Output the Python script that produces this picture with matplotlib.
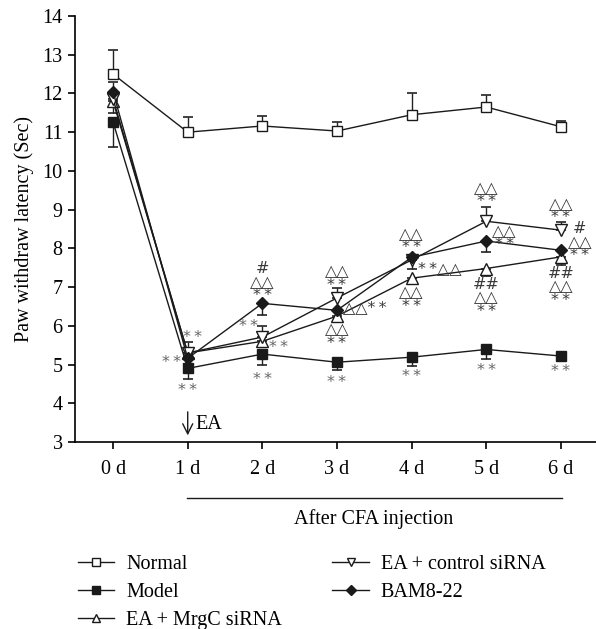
import matplotlib
matplotlib.use("Agg")
import matplotlib.pyplot as plt
import numpy as np

plt.rcParams['font.family'] = ['Liberation Serif', 'DejaVu Sans']

days = ["0 d", "1 d", "2 d", "3 d", "4 d", "5 d", "6 d"]

normal = [12.5, 11.0, 11.16, 11.03, 11.45, 11.65, 11.14]
normal_err_up = [0.62, 0.39, 0.27, 0.23, 0.55, 0.31, 0.15]
normal_err_dn = [0, 0, 0, 0, 0, 0, 0]

model = [11.26, 4.9, 5.27, 5.06, 5.19, 5.39, 5.22]
model_err_up = [0, 0, 0, 0, 0, 0, 0]
model_err_dn = [0.65, 0.28, 0.29, 0.21, 0.23, 0.24, 0.12]

mrgc = [11.8, 5.3, 5.6, 6.25, 7.23, 7.48, 7.78]
mrgc_err_up = [0, 0, 0, 0, 0, 0, 0]
mrgc_err_dn = [0.3, 0.1, 0.15, 0.12, 0.1, 0.2, 0.15]

ctrl = [11.86, 5.3, 5.71, 6.72, 7.7, 8.7, 8.47]
ctrl_err_up = [0.1, 0.28, 0.28, 0.26, 0.1, 0.36, 0.21]
ctrl_err_dn = [0, 0, 0, 0, 0, 0, 0]

bam = [12.04, 5.16, 6.58, 6.4, 7.77, 8.19, 7.95]
bam_err_up = [0.26, 0, 0, 0, 0, 0, 0]
bam_err_dn = [0, 0, 0.31, 0, 0.31, 0.29, 0.37]

# significance annotations: (series, day index, text, ha, va, dx px, dy px)
S = "*\u2009*"
T = "△△"
annots = [
    ("ctrl", 1, S, 'center', 'center', 5, 15),
    ("bam", 1, S, 'center', 'center', -16, -4),
    ("model", 1, S, 'center', 'center', 0, -22),
    ("bam", 2, "#\n" + T + "\n" + S, 'center', 'bottom', 0, 0),
    ("ctrl", 2, S, 'center', 'center', -14, 11),
    ("mrgc", 2, S, 'center', 'center', 16, -6),
    ("model", 2, S, 'center', 'center', 0, -25),
    ("ctrl", 3, T + "\n" + S, 'center', 'bottom', 0, 5),
    ("bam", 3, T + S, 'left', 'center', 6, 3),
    ("mrgc", 3, T + "\n" + S, 'center', 'top', 0, -6),
    ("model", 3, S, 'center', 'center', 0, -20),
    ("bam", 4, T + "\n" + S, 'center', 'bottom', 0, 2),
    ("bam", 4, S + T, 'left', 'center', 6, -11),
    ("mrgc", 4, T + "\n" + S, 'center', 'top', 0, -7),
    ("model", 4, S, 'center', 'center', 0, -19),
    ("ctrl", 5, T + "\n" + S, 'center', 'bottom', 0, 12),
    ("bam", 5, T + "\n" + S, 'center', 'center', 18, 3),
    ("mrgc", 5, "##\n" + T + "\n" + S, 'center', 'top', 0, -8),
    ("model", 5, S, 'center', 'center', 0, -21),
    ("ctrl", 6, T + "\n" + S, 'center', 'bottom', 0, 5),
    ("bam", 6, "#\n" + T + "\n" + S, 'center', 'center', 19, 8),
    ("mrgc", 6, "##\n" + T + "\n" + S, 'center', 'top', 0, -9),
    ("model", 6, S, 'center', 'center', 0, -15),
]

fig = plt.figure(figsize=(5.96, 6.29), dpi=100)
ax = fig.add_axes([75/596, 1-442/629, 1-75/596, (442-16)/629])

x = np.arange(len(days))
series = {
    "normal": (normal, normal_err_dn, normal_err_up, dict(marker='s', mfc='white', ms=7.5), "Normal"),
    "model": (model, model_err_dn, model_err_up, dict(marker='s', mfc='#1a1a1a', ms=7.5), "Model"),
    "mrgc": (mrgc, mrgc_err_dn, mrgc_err_up, dict(marker='^', mfc='white', ms=8), "EA + MrgC siRNA"),
    "ctrl": (ctrl, ctrl_err_dn, ctrl_err_up, dict(marker='v', mfc='white', ms=8), "EA + control siRNA"),
    "bam": (bam, bam_err_dn, bam_err_up, dict(marker='D', mfc='#1a1a1a', ms=6.5), "BAM8-22"),
}
handles = {}
for key in ["model", "mrgc", "ctrl", "bam", "normal"]:
    vals, edn, eup, st, lab = series[key]
    ax.errorbar(x, vals, yerr=[edn, eup], fmt='none', ecolor='#222222', elinewidth=1.0,
                capsize=3.3, capthick=1.2, zorder=2)
    h, = ax.plot(x, vals, color='#1a1a1a', lw=1.0, mec='#1a1a1a', mew=1.0, label=lab,
                 zorder=3, **st)
    handles[key] = h

for key, i, txt, ha, va, dx, dy in annots:
    vals = series[key][0]
    only_star = txt == S
    ax.annotate(txt, (x[i], vals[i]), xytext=(dx*0.72, dy*0.72), textcoords='offset points',
                ha=ha, va=va, multialignment='center', linespacing=0.88,
                fontsize=11.5,
                color='#666666' if only_star else '#3a3a3a',
                family=['DejaVu Sans'], zorder=4)

ax.set_xlim(-0.51, 6.47)
ax.set_ylim(3, 14)
ax.set_yticks(range(3, 15))
ax.set_xticks(x)
ax.set_xticklabels(days)
ax.spines['top'].set_visible(False)
ax.spines['right'].set_visible(False)
for s in ['left', 'bottom']:
    ax.spines[s].set_linewidth(1.2)
ax.tick_params(axis='both', direction='out', length=5, width=1.2, labelsize=14.5, pad=4)
ax.tick_params(axis='x', pad=8)
ax.set_ylabel("Paw withdraw latency (Sec)", fontsize=14.5, labelpad=6)

# EA arrow
ax.annotate("", xy=(1, 3.1), xytext=(1, 3.85),
            arrowprops=dict(arrowstyle='->', lw=1.0, color='#1a1a1a', mutation_scale=18))
ax.text(1.1, 3.45, "EA", fontsize=14.5, va='center', ha='left')

# After CFA injection line
fig.add_artist(plt.Line2D([187/596, 562/596], [1-498/629, 1-498/629], color='#1a1a1a', lw=1.0))
fig.text(374/596, 1-519/629, "After CFA injection", ha='center', va='center', fontsize=14.5)

order = ["normal", "model", "mrgc", "ctrl", "bam"]
fig.legend([handles[k] for k in order], [series[k][4] for k in order], ncol=2,
           loc='upper left', bbox_to_anchor=(70/596, 1-547/629), frameon=False,
           fontsize=14.5, handlelength=1.8, handletextpad=0.6, columnspacing=2.5,
           labelspacing=0.45, borderaxespad=0, markerscale=0.75)

fig.savefig("out.png", dpi=100)
